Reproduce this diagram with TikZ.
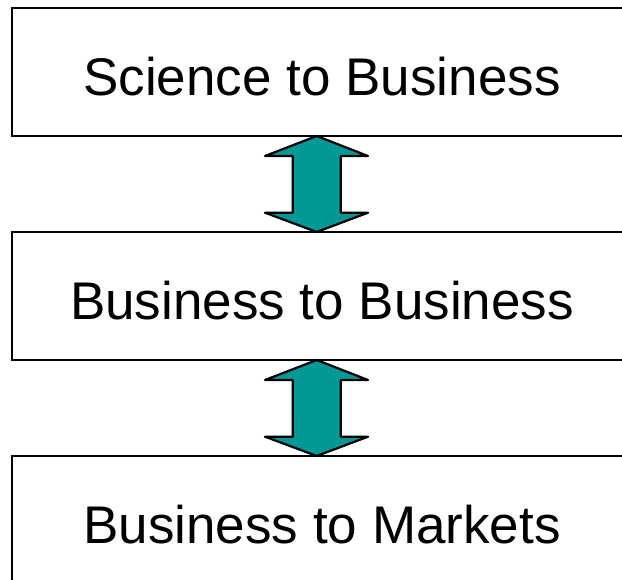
\documentclass[tikz,border=0pt]{standalone}
\usepackage{fontspec}
\setmainfont{Liberation Sans}
\definecolor{arrteal}{HTML}{009A96}
\begin{document}
\begin{tikzpicture}[x=1pt,y=-1pt,
  boxstyle/.style={draw=black,line width=2.6pt,fill=white},
  lbl/.style={font=\fontsize{53}{60}\selectfont,inner sep=0pt,anchor=center},
  dblarrow/.style={draw=black,line width=2.2pt,fill=arrteal,line join=round}]
\useasboundingbox[clip] (0,0) rectangle (622,580);
\fill[white] (0,0) rectangle (622,580);
\draw[boxstyle] (12,8) rectangle (640,136);
\draw[boxstyle] (12,232) rectangle (640,360);
\draw[boxstyle] (12,456) rectangle (640,620);
\node[lbl] (t1) at (322,77) {Science to Business};
\node[lbl] (t2) at (322,301) {Business to Business};
\node[lbl] (t3) at (322,525) {Business to Markets};
\foreach \y in {136,360}{
  \draw[dblarrow] (316.7,\y) -- (368,\y+20) -- (340.7,\y+20) -- (340.7,\y+76.7) -- (368,\y+76.7)
    -- (316.7,\y+96) -- (265,\y+76.7) -- (292.7,\y+76.7) -- (292.7,\y+20) -- (265,\y+20) -- cycle;
}
\end{tikzpicture}
\end{document}
